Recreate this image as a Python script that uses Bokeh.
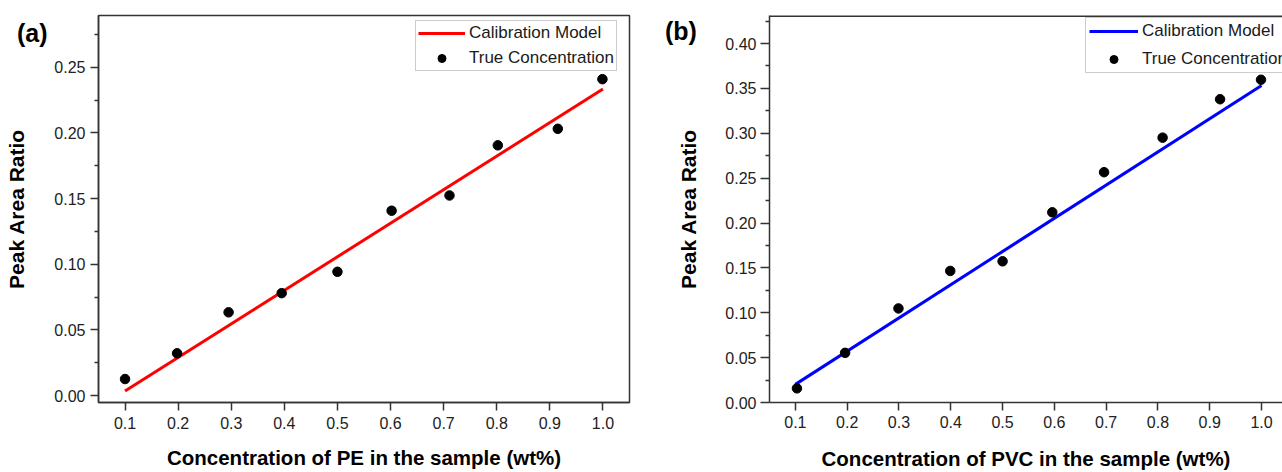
from bokeh.plotting import figure
from bokeh.models import (Range1d, FixedTicker, Legend, LegendItem, Span, Div, GridBox)
from bokeh.embed import file_html
from bokeh.resources import INLINE

# ---------------- data ----------------
x_ticks = [0.1, 0.2, 0.3, 0.4, 0.5, 0.6, 0.7, 0.8, 0.9, 1.0]
x_tick_labels = ["0.1", "0.2", "0.3", "0.4", "0.5", "0.6", "0.7", "0.8", "0.9", "1.0"]

pe_y_ticks = [0.0, 0.05, 0.1, 0.15, 0.2, 0.25]
pe_y_tick_labels = ["0.00", "0.05", "0.10", "0.15", "0.20", "0.25"]
pe_y_minor = [0.025, 0.075, 0.125, 0.175, 0.225, 0.275]

pvc_y_ticks = [0.0, 0.05, 0.1, 0.15, 0.2, 0.25, 0.3, 0.35, 0.4]
pvc_y_tick_labels = ["0.00", "0.05", "0.10", "0.15", "0.20", "0.25", "0.30", "0.35", "0.40"]
pvc_y_minor = [0.025, 0.075, 0.125, 0.175, 0.225, 0.275, 0.325, 0.375, 0.425]

pe_true_x = [0.100, 0.198, 0.295, 0.395, 0.500, 0.602, 0.711, 0.802, 0.915, 0.999]
pe_true_y = [0.0126, 0.0322, 0.0634, 0.0780, 0.0943, 0.1408, 0.1524, 0.1906, 0.2032, 0.2410]
pe_fit_x = [0.1, 1.0]
pe_fit_y = [0.0035, 0.2335]

pvc_true_x = [0.103, 0.196, 0.299, 0.399, 0.500, 0.596, 0.696, 0.809, 0.920, 0.999]
pvc_true_y = [0.0158, 0.0553, 0.1048, 0.1466, 0.1573, 0.2119, 0.2566, 0.2951, 0.3379, 0.3596]
pvc_fit_x = [0.1, 1.0]
pvc_fit_y = [0.0202, 0.3533]

FONT = "Liberation Sans"
AX = "#333333"
PVC_Y_TOP = 0.4312


def style_axes(p, y_ticks, y_labels, y_minor):
    p.xgrid.visible = False
    p.ygrid.visible = False
    p.xaxis.ticker = FixedTicker(ticks=x_ticks, minor_ticks=[])
    p.xaxis.major_label_overrides = dict(zip(x_ticks, x_tick_labels))
    p.yaxis.ticker = FixedTicker(ticks=y_ticks, minor_ticks=y_minor)
    p.yaxis.major_label_overrides = dict(zip(y_ticks, y_labels))
    for ax in (p.xaxis, p.yaxis):
        ax.axis_line_color = AX
        ax.axis_line_width = 1.5
        ax.major_tick_line_color = AX
        ax.major_tick_line_width = 1.5
        ax.minor_tick_line_color = AX
        ax.minor_tick_line_width = 1.5
        ax.major_tick_in = 0
        ax.major_tick_out = 8
        ax.minor_tick_in = 0
        ax.minor_tick_out = 4
        ax.major_label_text_font = FONT
        ax.major_label_text_font_size = "16px"
        ax.major_label_text_color = "#222222"
        ax.axis_label_text_font = FONT
        ax.axis_label_text_font_style = "bold"
        ax.axis_label_text_color = "#000000"
    p.xaxis.axis_label_text_font_size = "20.5px"
    p.yaxis.axis_label_text_font_size = "21px"
    p.yaxis.major_label_standoff = 5
    p.yaxis.axis_label_standoff = 23


def add_legend(p, line_r, dot_r, loc, glyph_w, pad, spacing):
    leg = Legend(items=[LegendItem(label="Calibration Model", renderers=[line_r]),
                        LegendItem(label="True Concentration", renderers=[dot_r])],
                 location=loc)
    leg.label_text_font = FONT
    leg.label_text_font_size = "17px"
    leg.label_text_color = "#1a1a1a"
    leg.glyph_width = glyph_w
    leg.glyph_height = 20
    leg.label_height = 20
    leg.label_standoff = 4
    leg.spacing = spacing
    leg.padding = pad
    leg.margin = 0
    leg.border_line_color = "#9a9a9a"
    leg.border_line_width = 1
    leg.background_fill_color = "white"
    leg.background_fill_alpha = 1
    p.add_layout(leg)


def panel_tag(text, left, top):
    html = ('<div style="margin-left:%dpx; margin-top:%dpx; font-family:\'Liberation Sans\';'
            ' font-weight:bold; font-size:25px; line-height:29px; color:#000;'
            ' white-space:nowrap;">%s</div>' % (left, top, text))
    return Div(text=html, width=70, height=60)


# ---------------- panel (a) ----------------
p1 = figure(width=650, height=472, x_range=Range1d(0.05, 1.05),
            y_range=Range1d(-0.00528, 0.2895),
            output_backend="svg", toolbar_location=None,
            min_border_left=98, min_border_right=21,
            min_border_top=15, min_border_bottom=66,
            x_axis_label="Concentration of PE in the sample (wt%)",
            y_axis_label="Peak Area Ratio")
p1.outline_line_color = AX
p1.outline_line_width = 1.5
p1.outline_line_alpha = 1
style_axes(p1, pe_y_ticks, pe_y_tick_labels, pe_y_minor)
p1.xaxis.major_label_standoff = 6
p1.xaxis.axis_label_standoff = 14

l1 = p1.line(pe_fit_x, pe_fit_y, line_color="#ff0000", line_width=3)
s1 = p1.scatter(pe_true_x, pe_true_y, size=9.5, color="black", marker="circle")
add_legend(p1, l1, s1, (317, 331), 47, 2, 5)

# ---------------- panel (b) ----------------
p2 = figure(width=632, height=472, x_range=Range1d(0.05, 1.0405),
            y_range=Range1d(0.0, PVC_Y_TOP),
            output_backend="svg", toolbar_location=None,
            min_border_left=119, min_border_right=0,
            min_border_top=11, min_border_bottom=70,
            x_axis_label="Concentration of PVC in the sample (wt%)",
            y_axis_label="Peak Area Ratio")
p2.outline_line_color = None
style_axes(p2, pvc_y_ticks, pvc_y_tick_labels, pvc_y_minor)
p2.xaxis.major_label_standoff = 5
p2.xaxis.axis_label_standoff = 16
p2.yaxis.major_tick_out = 9
p2.yaxis.major_label_standoff = 4
p2.yaxis.axis_label_standoff = 22
p2.add_layout(Span(location=PVC_Y_TOP, dimension="width", line_color=AX, line_width=3))

l2 = p2.line(pvc_fit_x, pvc_fit_y, line_color="#0000ff", line_width=3)
s2 = p2.scatter(pvc_true_x, pvc_true_y, size=9.5, color="black", marker="circle")
add_legend(p2, l2, s2, (316, 329), 49, 3, 8)

tag_a = panel_tag("(a)", 12, 14)
tag_b = panel_tag("(b)", 10, 12)

layout = GridBox(children=[(p1, 0, 0), (p2, 0, 1), (tag_a, 0, 0), (tag_b, 0, 1)])
open("out.html", "w").write(file_html(layout, INLINE))
